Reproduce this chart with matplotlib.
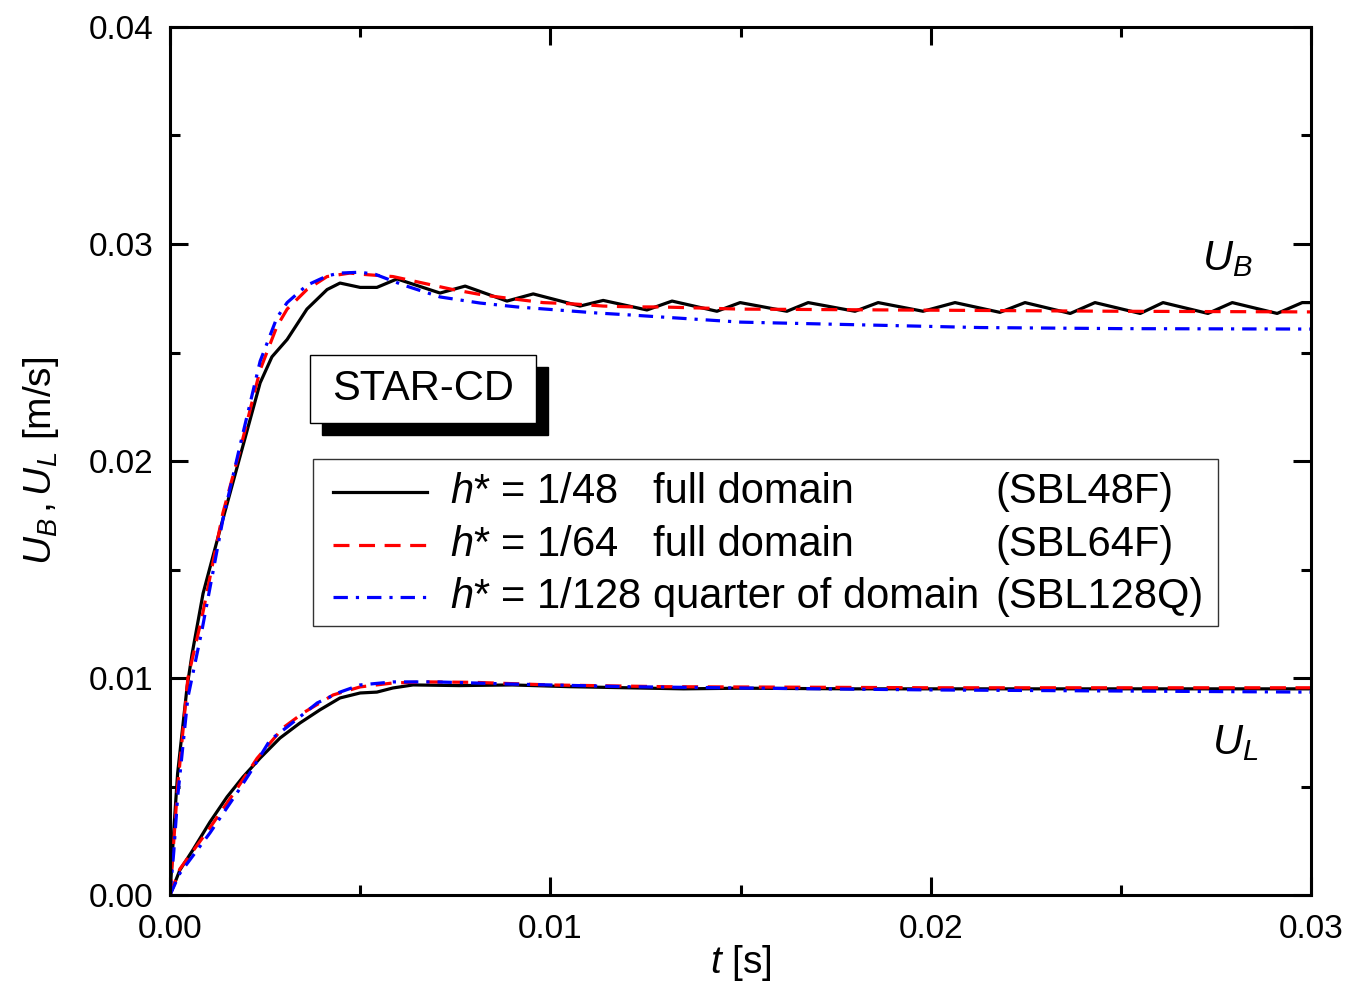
import matplotlib
matplotlib.use('Agg')
import matplotlib.pyplot as plt
from matplotlib.patches import Rectangle
from matplotlib.lines import Line2D
from matplotlib.ticker import MultipleLocator

plt.rcParams['font.family'] = ['Liberation Sans', 'DejaVu Sans']
plt.rcParams['mathtext.fontset'] = 'custom'
plt.rcParams['mathtext.rm'] = 'Liberation Sans'
plt.rcParams['mathtext.it'] = 'Liberation Sans:italic'

# --- U_B (bulk velocity) ---
t_ub_48 = [0, 0.0001, 0.0002, 0.0003, 0.00045, 0.00058, 0.00087, 0.00131, 0.00184, 0.00237,
           0.00268, 0.00308, 0.0036, 0.00413, 0.00447, 0.0050, 0.00544, 0.00597,
           0.0071, 0.00776, 0.00886, 0.00955, 0.01078, 0.01139, 0.01254, 0.0132, 0.01438,
           0.01499, 0.01622, 0.01678, 0.01801, 0.01862, 0.0198, 0.02064, 0.02182, 0.02248,
           0.02367, 0.02432, 0.02551, 0.02611, 0.02729, 0.02793, 0.02911, 0.02977, 0.030]
ub_48 = [0, 0.0030, 0.0056, 0.0072, 0.0096, 0.0111, 0.0139, 0.0168, 0.0202, 0.0236,
         0.0248, 0.0256, 0.0270, 0.0279, 0.0282, 0.0280, 0.0280, 0.02839,
         0.02774, 0.02806, 0.02737, 0.0277, 0.02714, 0.0274, 0.02696, 0.02737, 0.0269,
         0.0273, 0.0269, 0.0273, 0.0269, 0.0273, 0.0269, 0.0273, 0.02685, 0.0273,
         0.0268, 0.0273, 0.0268, 0.0273, 0.0268, 0.0273, 0.0268, 0.0273, 0.0273]

t_ub_64 = [0, 0.0001, 0.0002, 0.0003, 0.00047, 0.00084, 0.00139, 0.00184, 0.00237, 0.00281,
           0.00308, 0.0036, 0.00413, 0.00473, 0.00508, 0.00586, 0.00665, 0.00744, 0.00823,
           0.00902, 0.00981, 0.0106, 0.01139, 0.01217, 0.01288, 0.015, 0.020, 0.025, 0.030]
ub_64 = [0, 0.0025, 0.0050, 0.0068, 0.0100, 0.0128, 0.0176, 0.0205, 0.0242, 0.0262,
         0.0270, 0.0279, 0.0285, 0.02866, 0.0286, 0.0285, 0.0282, 0.0279, 0.02765,
         0.02747, 0.0273, 0.02724, 0.02714, 0.0271, 0.0271, 0.0270, 0.02695, 0.0269, 0.02687]

t_ub_128 = [0, 0.0001, 0.0002, 0.0003, 0.00047, 0.00084, 0.00139, 0.00184, 0.00237, 0.00281,
            0.00308, 0.0036, 0.00413, 0.00447, 0.0050, 0.0054, 0.00613, 0.0071, 0.00815,
            0.00912, 0.01018, 0.01123, 0.0121, 0.01288, 0.015, 0.0213, 0.025, 0.030]
ub_128 = [0, 0.0020, 0.0045, 0.0062, 0.0091, 0.0122, 0.0173, 0.0207, 0.0246, 0.0266,
          0.0273, 0.0281, 0.02853, 0.02866, 0.0287, 0.0286, 0.02811, 0.02756, 0.02728,
          0.0271, 0.02696, 0.02682, 0.02673, 0.02664, 0.0264, 0.02615, 0.0261, 0.02608]

# --- U_L ---
t_ul_48 = [0, 0.00026, 0.0006, 0.00105, 0.0015, 0.00192, 0.00237, 0.00289, 0.00342, 0.00394,
           0.00447, 0.005, 0.00544, 0.00586, 0.00639, 0.0076, 0.009, 0.0105, 0.012, 0.0135,
           0.015, 0.018, 0.021, 0.024, 0.027, 0.030]
ul_48 = [0, 0.00115, 0.00207, 0.00336, 0.00452, 0.00544, 0.00631, 0.00723, 0.00793, 0.00853,
         0.00908, 0.00931, 0.00935, 0.00954, 0.00968, 0.00965, 0.00968, 0.0096, 0.00955, 0.0095,
         0.00953, 0.0095, 0.0095, 0.0095, 0.0095, 0.0095]

t_ul_64 = [0, 0.00026, 0.00105, 0.00176, 0.00229, 0.00297, 0.0035, 0.00429, 0.005, 0.00586,
           0.00676, 0.008, 0.010, 0.013, 0.016, 0.020, 0.025, 0.030]
ul_64 = [0, 0.0012, 0.0031, 0.0049, 0.0063, 0.0077, 0.00839, 0.00922, 0.00959, 0.00977,
         0.00982, 0.0098, 0.00968, 0.0096, 0.00958, 0.00955, 0.00955, 0.00955]

t_ul_128 = [0, 0.00026, 0.00105, 0.00176, 0.0021, 0.00263, 0.00308, 0.00387, 0.00447, 0.005,
            0.00586, 0.0070, 0.009, 0.012, 0.016, 0.020, 0.025, 0.030]
ul_128 = [0, 0.0010, 0.00286, 0.0047, 0.00562, 0.00714, 0.00774, 0.00885, 0.00935, 0.00968,
          0.00982, 0.00982, 0.00972, 0.0096, 0.00952, 0.00945, 0.0094, 0.00935]

labels_h = ['$h$* = 1/48', '$h$* = 1/64', '$h$* = 1/128']
labels_dom = ['full domain', 'full domain', 'quarter of domain']
labels_case = ['(SBL48F)', '(SBL64F)', '(SBL128Q)']

styles = [dict(color='black', ls='-'),
          dict(color='#ff0000', ls=(0, (5, 3))),
          dict(color='#0000ff', ls=(0, (4.5, 2.5, 1, 2.5)))]
LW = 2.3

fig = plt.figure(figsize=(13.46, 9.86), dpi=100)
ax = fig.add_axes([170 / 1346, 91 / 986, 1141 / 1346, 868 / 986])

for (tt, uu), st in zip([(t_ub_48, ub_48), (t_ub_64, ub_64), (t_ub_128, ub_128)], styles):
    ax.plot(tt, uu, lw=LW, **st)
for (tt, uu), st in zip([(t_ul_48, ul_48), (t_ul_64, ul_64), (t_ul_128, ul_128)], styles):
    ax.plot(tt, uu, lw=LW, **st)

ax.set_xlim(0, 0.03)
ax.set_ylim(0, 0.04)
ax.xaxis.set_major_locator(MultipleLocator(0.01))
ax.xaxis.set_minor_locator(MultipleLocator(0.005))
ax.yaxis.set_major_locator(MultipleLocator(0.01))
ax.yaxis.set_minor_locator(MultipleLocator(0.005))
ax.xaxis.set_major_formatter(plt.FormatStrFormatter('%.2f'))
ax.yaxis.set_major_formatter(plt.FormatStrFormatter('%.2f'))
ax.tick_params(which='both', direction='in', top=True, right=True, width=2.2, labelsize=24)
ax.tick_params(which='major', length=13)
ax.tick_params(which='minor', length=7)
ax.tick_params(axis='y', pad=12)
ax.tick_params(axis='x', pad=14)
for sp in ax.spines.values():
    sp.set_linewidth(2.2)

ax.set_xlabel('$t$ [s]', fontsize=28, labelpad=-2)
ax.set_ylabel('$U_B\\,,U_L$ [m/s]', fontsize=28, labelpad=20)

ax.text(0.0278, 0.0293, '$U_B$', fontsize=30, ha='center', va='center')
ax.text(0.0280, 0.0070, '$U_L$', fontsize=30, ha='center', va='center')

# STAR-CD box with drop shadow
tr = ax.transAxes
ax.add_patch(Rectangle((0.1227 + 0.0105, 0.5438 - 0.0138), 0.1981, 0.0783, transform=tr,
                       facecolor='black', edgecolor='black', zorder=5))
ax.add_patch(Rectangle((0.1227, 0.5438), 0.1981, 0.0783, transform=tr,
                       facecolor='white', edgecolor='black', lw=1.0, zorder=6))
ax.text(0.1227 + 0.0990, 0.5438 + 0.0392, 'STAR-CD', transform=tr, fontsize=30,
        ha='center', va='center', zorder=7)

# legend drawn by hand so the three text columns line up
ax.add_patch(Rectangle((0.1253, 0.3099), 0.7932, 0.1924, transform=tr,
                       facecolor='white', edgecolor='#333333', lw=1.0, zorder=5))
rows_y = [0.4643, 0.4032, 0.3433]
for i, st in enumerate(styles):
    y = rows_y[i]
    ax.add_line(Line2D([0.1429, 0.2252], [y, y], transform=tr, lw=LW, zorder=6, **st))
    for x, txt in zip([0.2454, 0.4233, 0.7231], [labels_h[i], labels_dom[i], labels_case[i]]):
        ax.text(x, y, txt, transform=tr, fontsize=30, ha='left', va='center', zorder=7)

fig.savefig('out.png', dpi=100)
